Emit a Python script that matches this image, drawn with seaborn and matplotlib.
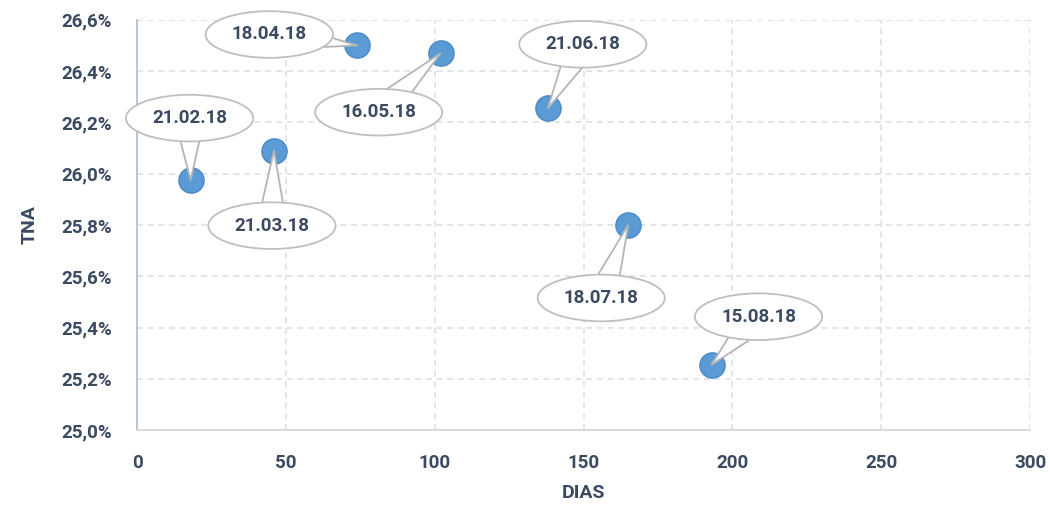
import pandas as pd
import matplotlib
matplotlib.use("Agg")
import matplotlib.pyplot as plt
from matplotlib.ticker import FuncFormatter, MultipleLocator
import seaborn as sns

# data
fechas = ["21.02.18", "21.03.18", "18.04.18", "16.05.18", "21.06.18", "18.07.18", "15.08.18"]
dias = [18, 46, 74, 102, 138, 165, 193]
tna = [25.975, 26.09, 26.50, 26.47, 26.255, 25.80, 25.255]

# callout offsets from each point (pixels)
offsets = [(-1, 62), (-2, -75), (-88, 11), (-62, -59), (35, 64), (-27, -73), (47, 48)]

df = pd.DataFrame({"DIAS": dias, "TNA": tna, "fecha": fechas})

sns.set_style("white")
plt.rcParams["font.family"] = ["Roboto", "DejaVu Sans"]

txt_color = "#3b4a60"
fig = plt.figure(figsize=(10.5, 5.09), dpi=100)
ax = fig.add_axes([0.1305, 0.155, 0.8505, 0.806])

sns.scatterplot(data=df, x="DIAS", y="TNA", ax=ax, s=330, color="#5b9bd5",
                edgecolor="#4a8ac8", linewidth=1, zorder=3)

for f, x, y, (dx, dy) in zip(fechas, dias, tna, offsets):
    ax.annotate(f, xy=(x, y), xytext=(dx, dy), textcoords="offset pixels",
                ha="center", va="center", fontsize=13.5, fontweight="bold",
                color=txt_color, zorder=5,
                bbox=dict(boxstyle="ellipse,pad=0.4", fc="white", ec="#bfbfbf", lw=1.3),
                arrowprops=dict(arrowstyle="wedge,tail_width=1.6,shrink_factor=0.5",
                                fc="white", ec="#b5b5b5", lw=1.3,
                                patchA=None, shrinkA=0, shrinkB=0))

ax.set_xlim(0, 300)
ax.set_ylim(25.0, 26.6)
ax.xaxis.set_major_locator(MultipleLocator(50))
ax.yaxis.set_major_locator(MultipleLocator(0.2))
ax.yaxis.set_major_formatter(FuncFormatter(lambda v, p: f"{v:.1f}%".replace(".", ",")))

ax.grid(True, linestyle=(0, (4, 3)), color="#d9dee8", linewidth=1.1)
ax.set_axisbelow(True)
for side in ["top", "right"]:
    ax.spines[side].set_visible(False)
ax.spines["left"].set_color("#b4c0d6")
ax.spines["left"].set_linewidth(1.3)
ax.spines["bottom"].set_color("#d9d9d9")
ax.spines["bottom"].set_linewidth(1.3)

ax.tick_params(axis="both", length=0, labelsize=13.5, labelcolor=txt_color)
ax.tick_params(axis="x", pad=17)
ax.tick_params(axis="y", pad=18)
for lbl in ax.get_xticklabels() + ax.get_yticklabels():
    lbl.set_fontweight("bold")

ax.set_xlabel("DIAS", fontsize=14, fontweight="bold", color=txt_color, labelpad=9)
ax.set_ylabel("TNA", fontsize=14, fontweight="bold", color=txt_color, labelpad=16)

fig.savefig("out.png", dpi=100)
